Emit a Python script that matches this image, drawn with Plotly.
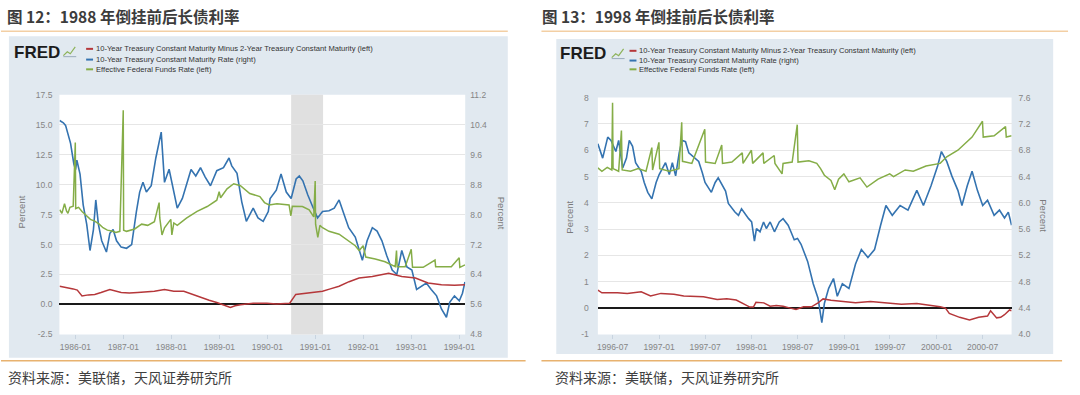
import plotly.graph_objects as go

W, H = 1080, 395

# ---------------- Figure 12 data (1985-1994) ----------------
c12_t10_dates = ["1985-09-03", "1985-10-01", "1985-10-18", "1985-11-10", "1985-11-25", "1985-12-20",
                 "1986-01-02", "1986-01-12", "1986-02-05", "1986-03-01", "1986-03-28", "1986-04-22",
                 "1986-05-18", "1986-06-05", "1986-06-25", "1986-07-20", "1986-08-25", "1986-09-20",
                 "1986-10-15", "1986-11-10", "1986-12-15", "1987-01-25", "1987-03-05", "1987-04-10",
                 "1987-05-05", "1987-05-30", "1987-06-25", "1987-08-01", "1987-09-05", "1987-10-16",
                 "1987-10-25", "1987-11-10", "1987-12-15", "1988-01-22", "1988-02-15", "1988-03-25",
                 "1988-05-05", "1988-05-30", "1988-07-05", "1988-08-10", "1988-09-15", "1988-10-25",
                 "1988-12-12", "1989-02-01", "1989-03-15", "1989-04-05", "1989-05-15", "1989-06-20",
                 "1989-07-25", "1989-09-15", "1989-10-22", "1989-11-30", "1990-01-08", "1990-01-22",
                 "1990-03-10", "1990-04-15", "1990-05-25", "1990-07-01", "1990-08-08", "1990-09-01",
                 "1990-09-28", "1990-11-05", "1990-12-12", "1991-01-18", "1991-02-25", "1991-04-15",
                 "1991-05-25", "1991-07-01", "1991-08-08", "1991-09-12", "1991-11-01", "1991-12-25",
                 "1992-01-30", "1992-03-10", "1992-04-15", "1992-05-22", "1992-06-28", "1992-08-08",
                 "1992-09-12", "1992-10-20", "1992-11-28", "1993-01-05", "1993-02-10", "1993-03-20",
                 "1993-04-25", "1993-06-01", "1993-07-12", "1993-08-18", "1993-09-25", "1993-10-20",
                 "1993-11-25", "1994-01-01", "1994-01-25", "1994-02-13"]
c12_t10_vals = [10.51, 10.45, 10.38, 10.1, 9.9, 9.35,
                9.2, 9.45, 9.08, 8.26, 7.74, 7.04,
                7.6, 8.39, 7.74, 7.3, 7.0, 7.5,
                7.6, 7.3, 7.13, 7.1, 7.2, 8.08,
                8.6, 8.86, 8.6, 8.77, 9.51, 10.2,
                9.6, 8.86, 9.21, 8.52, 8.17, 8.43,
                8.95, 9.2, 9.03, 9.25, 9.0, 8.77,
                9.17, 9.25, 9.51, 9.3, 9.1, 8.34,
                7.82, 8.17, 7.91, 7.82, 8.08, 8.43,
                8.65, 9.08, 8.6, 8.43, 8.95, 9.03,
                8.9, 8.52, 8.21, 7.91, 8.08, 8.1,
                8.17, 8.39, 8.0, 7.65, 7.4, 6.78,
                7.3, 7.65, 7.56, 7.3, 6.9, 6.52,
                6.4, 7.04, 6.6, 6.52, 6.0, 6.08,
                6.17, 6.0, 5.83, 5.48, 5.26, 5.66,
                5.83, 5.7, 5.9, 6.2]

c12_ff_dates = ["1985-09-03", "1985-09-20", "1985-10-10", "1985-10-25", "1985-11-05", "1985-11-20",
                "1985-12-15", "1985-12-31", "1986-01-03", "1986-01-25", "1986-02-20", "1986-03-28",
                "1986-04-25", "1986-05-28", "1986-07-01", "1986-07-30", "1986-09-01", "1986-10-05",
                "1986-11-05", "1986-12-05", "1986-12-31", "1987-01-03", "1987-01-25", "1987-03-28",
                "1987-05-20", "1987-07-05", "1987-08-25", "1987-09-30", "1987-10-05", "1987-10-22",
                "1987-11-10", "1987-12-28", "1988-01-05", "1988-01-20", "1988-02-15", "1988-04-25",
                "1988-07-15", "1988-09-30", "1988-12-12", "1988-12-30", "1989-01-10", "1989-02-28",
                "1989-04-20", "1989-06-10", "1989-08-20", "1989-11-05", "1989-12-10", "1990-01-15",
                "1990-03-15", "1990-06-15", "1990-06-29", "1990-07-10", "1990-09-25", "1990-11-15",
                "1990-12-20", "1990-12-31", "1991-01-03", "1991-01-20", "1991-02-05", "1991-02-25",
                "1991-04-15", "1991-07-01", "1991-09-12", "1991-11-01", "1991-12-01", "1991-12-31",
                "1992-01-20", "1992-04-01", "1992-06-15", "1992-08-31", "1992-09-10", "1992-09-15",
                "1992-11-15", "1992-12-31", "1993-01-10", "1993-04-01", "1993-06-30", "1993-07-05",
                "1993-11-01", "1993-12-31", "1994-01-05", "1994-02-13"]
c12_ff_vals = [7.9, 7.6, 8.4, 7.8, 7.6, 8.1,
               8.2, 13.5, 8.0, 8.1, 7.76, 7.35,
               7.1, 6.95, 6.7, 6.4, 6.2, 6.13,
               6.0, 6.1, 16.2, 6.2, 6.1, 6.3,
               6.7, 6.6, 6.9, 8.5, 7.22, 5.8,
               6.4, 7.1, 5.8, 6.8, 6.6, 7.2,
               7.76, 8.17, 8.7, 9.4, 8.9, 9.65,
               10.07, 9.9, 9.26, 9.0, 8.5, 8.3,
               8.4, 8.3, 7.4, 8.2, 8.17, 7.9,
               7.3, 10.3, 6.7, 5.6, 6.6, 6.4,
               6.1, 5.86, 5.32, 4.9, 4.5, 4.9,
               3.96, 3.8, 3.56, 3.15, 4.5, 3.15,
               3.15, 4.6, 3.1, 3.1, 3.7, 3.15,
               3.15, 3.9, 3.1, 3.3]

c12_sp_dates = ["1985-09-03", "1985-10-10", "1985-11-10", "1985-12-15", "1986-01-15", "1986-02-20",
                "1986-04-10", "1986-05-28", "1986-07-15", "1986-09-20", "1986-12-15", "1987-02-15",
                "1987-04-20", "1987-06-20", "1987-08-25", "1987-11-10", "1988-01-20", "1988-04-05",
                "1988-06-05", "1988-08-10", "1988-10-15", "1988-12-12", "1989-02-10", "1989-03-25",
                "1989-05-01", "1989-06-10", "1989-09-15", "1989-12-28", "1990-03-10", "1990-06-20",
                "1990-08-05", "1990-11-15", "1991-02-25", "1991-04-25", "1991-07-01", "1991-09-15",
                "1991-11-30", "1992-03-10", "1992-07-12", "1992-10-20", "1993-02-01", "1993-05-08",
                "1993-08-18", "1993-11-25", "1994-02-13"]
c12_sp_vals = [1.52, 1.45, 1.38, 1.3, 1.2, 0.71,
               0.8, 0.84, 1.0, 1.25, 1.0, 0.95,
               1.0, 1.05, 1.1, 1.25, 1.1, 1.1,
               0.85, 0.57, 0.35, 0.16, -0.05, -0.24,
               -0.1, -0.02, 0.1, 0.1, 0.03, 0.1,
               0.84, 1.0, 1.1, 1.3, 1.52, 1.9,
               2.2, 2.33, 2.6, 2.33, 2.2, 1.79,
               1.65, 1.6, 1.65]

c12_xrange = ["1985-09-01", "1994-02-15"]
c12_xticks = ["1986-01-01", "1987-01-01", "1988-01-01", "1989-01-01", "1990-01-01",
              "1991-01-01", "1992-01-01", "1993-01-01", "1994-01-01"]
c12_xticktext = ["1986-01", "1987-01", "1988-01", "1989-01", "1990-01",
                 "1991-01", "1992-01", "1993-01", "1994-01"]
c12_left_ticks = [-2.5, 0.0, 2.5, 5.0, 7.5, 10.0, 12.5, 15.0, 17.5]
c12_right_ticks = [4.8, 5.6, 6.4, 7.2, 8.0, 8.8, 9.6, 10.4, 11.2]
c12_recession = ["1990-07-01", "1991-03-01"]

# ---------------- Figure 13 data (1996-2000) ----------------
c13_t10_dates = ["1996-05-04", "1996-05-23", "1996-06-12", "1996-06-25", "1996-07-14", "1996-07-25",
                 "1996-08-10", "1996-08-25", "1996-09-05", "1996-09-18", "1996-09-30", "1996-10-22",
                 "1996-11-03", "1996-11-17", "1996-12-03", "1996-12-20", "1997-01-01", "1997-01-26",
                 "1997-02-10", "1997-02-22", "1997-03-07", "1997-03-21", "1997-04-01", "1997-04-15",
                 "1997-04-28", "1997-05-12", "1997-06-06", "1997-06-20", "1997-07-01", "1997-07-26",
                 "1997-08-10", "1997-08-22", "1997-09-20", "1997-10-01", "1997-10-27", "1997-11-10",
                 "1997-11-22", "1997-12-20", "1998-01-01", "1998-01-12", "1998-01-20", "1998-02-03",
                 "1998-02-17", "1998-02-28", "1998-03-15", "1998-04-01", "1998-04-20", "1998-05-05",
                 "1998-05-25", "1998-06-05", "1998-06-18", "1998-07-01", "1998-07-15", "1998-08-10",
                 "1998-09-01", "1998-09-20", "1998-10-05", "1998-10-15", "1998-11-01", "1998-11-20",
                 "1998-12-05", "1998-12-25", "1999-01-20", "1999-02-15", "1999-03-10", "1999-04-05",
                 "1999-05-01", "1999-05-25", "1999-06-15", "1999-07-10", "1999-08-10", "1999-09-10",
                 "1999-10-15", "1999-11-10", "1999-12-10", "2000-01-05", "2000-01-20", "2000-02-10",
                 "2000-03-01", "2000-03-25", "2000-04-10", "2000-05-01", "2000-05-20", "2000-06-10",
                 "2000-07-01", "2000-07-20", "2000-08-15", "2000-09-05", "2000-09-25", "2000-10-10",
                 "2000-10-23"]
c13_t10_vals = [6.90, 6.68, 7.00, 6.95, 6.78, 6.95,
                6.53, 6.68, 6.95, 6.86, 6.61, 6.48,
                6.31, 6.16, 6.06, 6.31, 6.43, 6.61,
                6.43, 6.61, 6.41, 6.76, 6.95, 6.93,
                6.76, 6.71, 6.63, 6.46, 6.31, 6.16,
                6.31, 6.38, 6.18, 5.99, 5.86, 5.81,
                5.91, 5.76, 5.71, 5.42, 5.61, 5.56,
                5.71, 5.61, 5.71, 5.56, 5.71, 5.76,
                5.66, 5.56, 5.44, 5.46, 5.37, 5.11,
                4.77, 4.55, 4.18, 4.47, 4.70, 4.85,
                4.58, 4.77, 4.70, 5.07, 5.29, 5.17,
                5.29, 5.66, 5.96, 5.81, 5.96, 5.89,
                6.19, 5.96, 6.26, 6.56, 6.78, 6.63,
                6.41, 6.19, 5.96, 6.26, 6.48, 6.19,
                5.96, 6.04, 5.81, 5.89, 5.77, 5.86,
                5.66]

c13_ff_dates = ["1996-05-04", "1996-05-20", "1996-06-10", "1996-06-28", "1996-07-01", "1996-07-03",
                "1996-07-25", "1996-08-05", "1996-08-08", "1996-09-10", "1996-10-10", "1996-11-10",
                "1996-12-03", "1996-12-06", "1996-12-31", "1997-01-03", "1997-02-10", "1997-03-20",
                "1997-03-31", "1997-04-03", "1997-05-10", "1997-06-30", "1997-07-03", "1997-08-10",
                "1997-09-05", "1997-09-08", "1997-10-15", "1997-11-25", "1997-11-28", "1997-12-31",
                "1998-01-05", "1998-02-15", "1998-02-18", "1998-03-31", "1998-04-03", "1998-05-01",
                "1998-05-05", "1998-06-10", "1998-06-30", "1998-07-03", "1998-08-15", "1998-09-15",
                "1998-09-30", "1998-10-15", "1998-11-10", "1998-11-25", "1998-12-10", "1998-12-31",
                "1999-01-20", "1999-03-05", "1999-04-01", "1999-05-15", "1999-06-30", "1999-07-15",
                "1999-08-30", "1999-10-01", "1999-11-20", "2000-01-15", "2000-02-10", "2000-03-25",
                "2000-05-20", "2000-06-30", "2000-07-03", "2000-08-15", "2000-09-29", "2000-10-02",
                "2000-10-23"]
c13_ff_vals = [5.33, 5.2, 5.35, 5.25, 7.8, 5.3,
               5.2, 6.75, 5.25, 5.2, 5.3, 5.2,
               6.1, 5.25, 6.3, 5.3, 5.2, 5.3,
               7.06, 5.58, 5.5, 6.8, 5.55, 5.5,
               6.2, 5.5, 5.55, 5.9, 5.5, 6.0,
               5.5, 5.9, 5.5, 5.8, 5.5, 5.1,
               5.5, 5.55, 6.97, 5.55, 5.6, 5.5,
               5.3, 5.05, 4.85, 4.5, 4.9, 5.1,
               4.8, 4.95, 4.6, 4.9, 5.1, 5.0,
               5.25, 5.2, 5.4, 5.5, 5.75, 6.0,
               6.5, 7.1, 6.5, 6.55, 6.9, 6.5,
               6.55]

c13_sp_dates = ["1996-05-04", "1996-05-20", "1996-07-20", "1996-08-28", "1996-10-22", "1996-11-28",
                "1997-01-08", "1997-02-28", "1997-04-08", "1997-05-18", "1997-06-25", "1997-08-18",
                "1997-09-25", "1997-11-01", "1997-11-28", "1997-12-25", "1998-01-08", "1998-01-18",
                "1998-02-18", "1998-03-15", "1998-04-08", "1998-05-05", "1998-05-30", "1998-06-25",
                "1998-07-25", "1998-08-25", "1998-09-20", "1998-10-10", "1998-11-10", "1998-12-20",
                "1999-02-15", "1999-04-15", "1999-06-15", "1999-08-15", "1999-10-15", "1999-12-15",
                "2000-01-15", "2000-02-05", "2000-02-20", "2000-04-01", "2000-05-10", "2000-06-15",
                "2000-07-20", "2000-08-01", "2000-08-25", "2000-09-10", "2000-09-25", "2000-10-15",
                "2000-10-23"]
c13_sp_vals = [0.68, 0.58, 0.58, 0.56, 0.62, 0.46,
               0.56, 0.53, 0.46, 0.43, 0.43, 0.33,
               0.36, 0.31, 0.16, 0.04, 0.04, 0.22,
               0.20, 0.07, 0.10, 0.07, 0.01, -0.05,
               0.05, 0.05, 0.20, 0.35, 0.30, 0.25,
               0.20, 0.25, 0.20, 0.15, 0.18, 0.10,
               0.05, 0.0, -0.2, -0.35, -0.45, -0.35,
               -0.3, -0.1, -0.37, -0.35, -0.25, -0.07,
               -0.1]

c13_xrange = ["1996-05-04", "2000-10-23"]
c13_xticks = ["1996-07-01", "1997-01-01", "1997-07-01", "1998-01-01", "1998-07-01",
              "1999-01-01", "1999-07-01", "2000-01-01", "2000-07-01"]
c13_xticktext = ["1996-07", "1997-01", "1997-07", "1998-01", "1998-07",
                 "1999-01", "1999-07", "2000-01", "2000-07"]
c13_left_ticks = [-1, 0, 1, 2, 3, 4, 5, 6, 7, 8]
c13_right_ticks = [4.0, 4.4, 4.8, 5.2, 5.6, 6.0, 6.4, 6.8, 7.2, 7.6]

legend_labels = ["10-Year Treasury Constant Maturity Minus 2-Year Treasury Constant Maturity (left)",
                 "10-Year Treasury Constant Maturity Rate (right)",
                 "Effective Federal Funds Rate (left)"]
titles = ["图 12：1988 年倒挂前后长债利率", "图 13：1998 年倒挂前后长债利率"]
source_text = "资料来源：美联储，天风证券研究所"

# ---------------- styling ----------------
RED, BLUE, GREEN = "#b5373a", "#3473b0", "#85ad47"
PANEL = "#e1e9f0"
GRID = "#e6e6e6"
TICKC = "#858585"
SANS = "Liberation Sans, Arial, sans-serif"
CJK = "Noto Sans CJK SC, sans-serif"


def px(x):
    return x / W


def py(y):
    return 1 - y / H


tickfont = dict(family=SANS, size=8.5, color=TICKC)

fig = go.Figure()
# chart 12 traces
fig.add_trace(go.Scatter(x=c12_t10_dates, y=c12_t10_vals, xaxis="x", yaxis="y", mode="lines",
                         line=dict(color=BLUE, width=1.6)))
fig.add_trace(go.Scatter(x=c12_sp_dates, y=c12_sp_vals, xaxis="x", yaxis="y2", mode="lines",
                         line=dict(color=RED, width=1.5)))
fig.add_trace(go.Scatter(x=c12_ff_dates, y=c12_ff_vals, xaxis="x", yaxis="y2", mode="lines",
                         line=dict(color=GREEN, width=1.5)))
# chart 13 traces
fig.add_trace(go.Scatter(x=c13_t10_dates, y=c13_t10_vals, xaxis="x2", yaxis="y3", mode="lines",
                         line=dict(color=BLUE, width=1.6)))
fig.add_trace(go.Scatter(x=c13_sp_dates, y=c13_sp_vals, xaxis="x2", yaxis="y4", mode="lines",
                         line=dict(color=RED, width=1.5)))
fig.add_trace(go.Scatter(x=c13_ff_dates, y=c13_ff_vals, xaxis="x2", yaxis="y4", mode="lines",
                         line=dict(color=GREEN, width=1.5)))

P12 = dict(x0=59, x1=469, y0=92, y1=338)
P13 = dict(x0=603, x1=1021, y0=95, y1=338)

xcommon = dict(type="date", showgrid=False, zeroline=False, showline=False, ticks="outside",
               ticklen=4, tickcolor="#c8d4e0", tickfont=tickfont, fixedrange=True)
ycommon = dict(zeroline=False, showline=False, ticks="", tickfont=tickfont, fixedrange=True)

layout = dict(
    width=W, height=H, margin=dict(l=0, r=0, t=0, b=0),
    paper_bgcolor="white", plot_bgcolor="white", showlegend=False,
    xaxis=dict(xcommon, domain=[px(P12["x0"]), px(P12["x1"])], anchor="y", range=c12_xrange,
               tickvals=c12_xticks, ticktext=c12_xticktext),
    yaxis=dict(ycommon, domain=[py(P12["y1"]), py(P12["y0"])], anchor="x", side="right",
               range=[4.8, 11.2], tickvals=c12_right_ticks,
               ticktext=[f"{v:.1f}" for v in c12_right_ticks], showgrid=False, ticklabelstandoff=4),
    yaxis2=dict(ycommon, overlaying="y", anchor="x", side="left", range=[-2.5, 17.5],
                tickvals=c12_left_ticks, ticktext=[f"{v:.1f}" for v in c12_left_ticks],
                showgrid=True, gridcolor=GRID, gridwidth=1,
                zeroline=True, zerolinecolor="#1a1a1a", zerolinewidth=2, ticklabelstandoff=6),
    xaxis2=dict(xcommon, domain=[px(P13["x0"]), px(P13["x1"])], anchor="y3", range=c13_xrange,
                tickvals=c13_xticks, ticktext=c13_xticktext),
    yaxis3=dict(ycommon, domain=[py(P13["y1"]), py(P13["y0"])], anchor="x2", side="right",
                range=[4.0, 7.6], tickvals=c13_right_ticks,
                ticktext=[f"{v:.1f}" for v in c13_right_ticks], showgrid=False, ticklabelstandoff=6),
    yaxis4=dict(ycommon, overlaying="y3", anchor="x2", side="left", range=[-1, 8],
                tickvals=c13_left_ticks, ticktext=[str(v) for v in c13_left_ticks],
                showgrid=True, gridcolor=GRID, gridwidth=1,
                zeroline=True, zerolinecolor="#1a1a1a", zerolinewidth=2, ticklabelstandoff=8),
)

shapes = []
annotations = []


def rect(x0, y0, x1, y1, color, layer="below"):
    shapes.append(dict(type="rect", xref="paper", yref="paper", x0=px(x0), x1=px(x1),
                       y0=py(y1), y1=py(y0), fillcolor=color, line=dict(width=0), layer=layer))


def hline(x0, x1, y, color, width):
    shapes.append(dict(type="line", xref="paper", yref="paper", x0=px(x0), x1=px(x1),
                       y0=py(y), y1=py(y), line=dict(color=color, width=width)))


def text(x, y, s, size, color, family=SANS, xanchor="left", angle=0, bold=False):
    if bold:
        s = f"<b>{s}</b>"
    annotations.append(dict(x=px(x), y=py(y), xref="paper", yref="paper", text=s, showarrow=False,
                            xanchor=xanchor, yanchor="middle", textangle=angle, borderpad=0,
                            font=dict(family=family, size=size, color=color)))


# panel boxes and white plot areas
rect(8, 32, 512, 362, PANEL)
rect(P12["x0"], P12["y0"], P12["x1"], P12["y1"], "white")
rect(561, 35, 1063, 358, PANEL)
rect(P13["x0"], P13["y0"], P13["x1"], P13["y1"], "white")
# recession shading
shapes.append(dict(type="rect", xref="x", yref="y domain", x0=c12_recession[0], x1=c12_recession[1],
                   y0=0, y1=1, fillcolor="#e0e0e0", line=dict(width=0), layer="below"))

# orange separator lines
hline(0, 512, 27, "#f3cfa4", 1.5)
hline(546, 1078, 27, "#f3cfa4", 1.5)
hline(0, 530, 365, "#e8b26f", 1.5)
hline(546, 1072, 365, "#e8b26f", 1.5)

# titles and sources
text(5, 11, titles[0], 15.5, "#3c3c3c", family=CJK, bold=True)
text(546, 11, titles[1], 15.5, "#3c3c3c", family=CJK, bold=True)
text(6, 382, source_text, 14, "#404040", family=CJK)
text(559, 382, source_text, 14, "#404040", family=CJK)

# FRED logos, legends
for (lx, icon_x, line_x, rows) in [(12, 63, 86, (45, 56, 66)), (564, 617, 635, (47, 57, 66))]:
    annotations.append(dict(x=px(lx), y=py((rows[0] + rows[1]) / 2 - 2), xref="paper", yref="paper",
                            text="<b>FRED</b>", showarrow=False, xanchor="left", yanchor="middle",
                            borderpad=0,
                            font=dict(family=SANS, size=17, color="#1c1c1c")))
    # tiny chart icon
    ix, iy = icon_x, rows[0] - 2
    shapes.append(dict(type="path", xref="paper", yref="paper",
                       path=f"M {px(ix)},{py(iy + 9)} L {px(ix + 4)},{py(iy + 5)} L {px(ix + 7)},{py(iy + 7)} L {px(ix + 12)},{py(iy)}",
                       line=dict(color="#8db35a", width=1.2)))
    shapes.append(dict(type="path", xref="paper", yref="paper",
                       path=f"M {px(ix)},{py(iy + 10)} L {px(ix + 13)},{py(iy + 10)}",
                       line=dict(color="#9aaabb", width=1)))
    for color, ry, lab in zip([RED, BLUE, GREEN], rows, legend_labels):
        hline(line_x, line_x + 7, ry, color, 2)
        text(line_x + 9, ry, lab, 7.6, "#333333")

# "Percent" axis titles
text(21, 212, "Percent", 9.5, "#7a7a7a", xanchor="center", angle=-90)
text(506, 214, "Percent", 9.5, "#7a7a7a", xanchor="center", angle=90)
text(574, 218, "Percent", 9.5, "#7a7a7a", xanchor="center", angle=-90)
text(1053, 216, "Percent", 9.5, "#7a7a7a", xanchor="center", angle=90)

layout["shapes"] = shapes
layout["annotations"] = annotations
fig.update_layout(**layout)
fig.write_html("out.html", config={"displayModeBar": False},
               post_script="document.body.style.margin='0';document.body.style.overflow='hidden';")
